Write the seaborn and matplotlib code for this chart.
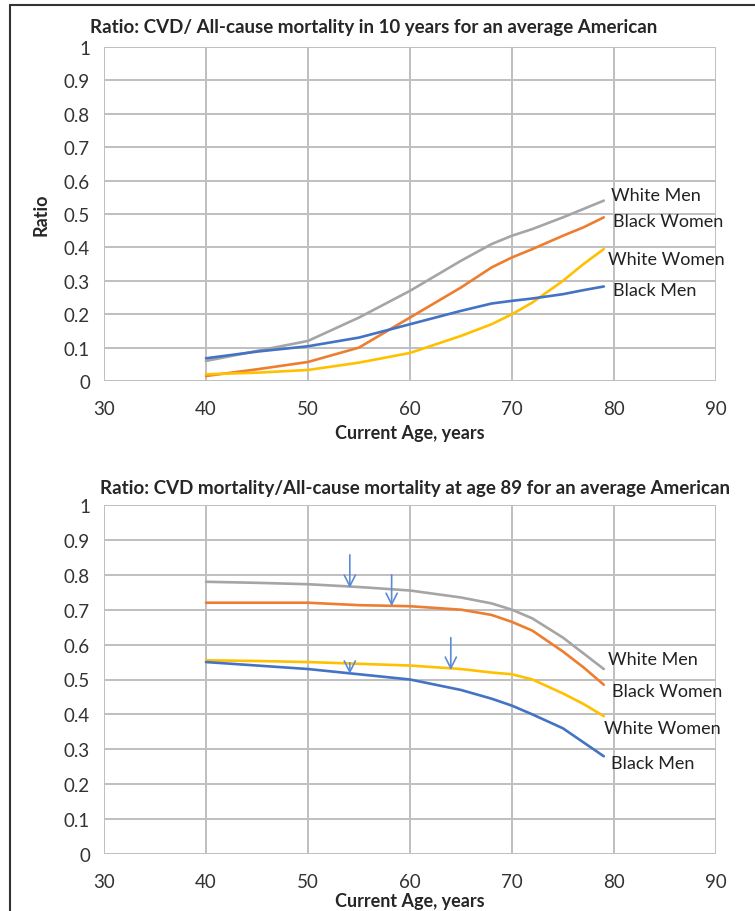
import pandas as pd
import matplotlib.pyplot as plt
import seaborn as sns
import numpy as np
from matplotlib.patches import Rectangle

###############################################################################
#data
age = [40, 45, 50, 55, 60, 65, 68, 70, 72, 75, 77, 79]
groups = ['White Men', 'Black Women', 'White Women', 'Black Men']

#top chart: ratio of CVD / all-cause mortality in 10 years
top_white_men = [0.06, 0.09, 0.12, 0.19, 0.27, 0.36, 0.41, 0.435, 0.455, 0.49, 0.515, 0.54]
top_black_women = [0.015, 0.035, 0.057, 0.10, 0.19, 0.28, 0.34, 0.37, 0.395, 0.435, 0.46, 0.49]
top_white_women = [0.02, 0.025, 0.033, 0.055, 0.084, 0.135, 0.17, 0.20, 0.235, 0.30, 0.35, 0.395]
top_black_men = [0.068, 0.088, 0.104, 0.13, 0.17, 0.21, 0.232, 0.24, 0.247, 0.26, 0.272, 0.283]

#bottom chart: ratio at age 89
bot_white_men = [0.78, 0.777, 0.773, 0.765, 0.755, 0.735, 0.718, 0.70, 0.675, 0.62, 0.575, 0.53]
bot_black_women = [0.72, 0.72, 0.72, 0.713, 0.71, 0.70, 0.685, 0.665, 0.64, 0.58, 0.535, 0.485]
bot_white_women = [0.555, 0.553, 0.55, 0.545, 0.54, 0.53, 0.52, 0.515, 0.50, 0.46, 0.43, 0.395]
bot_black_men = [0.55, 0.54, 0.53, 0.515, 0.50, 0.47, 0.445, 0.425, 0.40, 0.36, 0.32, 0.28]

#end labels (x, y) for each chart
top_labels = {'White Men': (79.7, 0.557), 'Black Women': (79.9, 0.48),
              'White Women': (79.4, 0.365), 'Black Men': (79.9, 0.272)}
bot_labels = {'White Men': (79.4, 0.559), 'Black Women': (79.8, 0.467),
              'White Women': (79.0, 0.36), 'Black Men': (79.7, 0.26)}

#arrows on the bottom chart: x, top y, tip y
arrow_x = [54.1, 58.2, 64.0, 54.1]
arrow_top = [0.857, 0.80, 0.62, 0.548]
arrow_tip = [0.762, 0.71, 0.527, 0.516]

###############################################################################
palette = {'White Men': '#a5a5a5', 'Black Women': '#ed7d31',
           'White Women': '#ffc000', 'Black Men': '#4472c4'}

def long_form(series):
    rows = []
    for g, vals in zip(groups, series):
        for a, v in zip(age, vals):
            rows.append({'age': a, 'ratio': v, 'group': g})
    return pd.DataFrame(rows)

df_top = long_form([top_white_men, top_black_women, top_white_women, top_black_men])
df_bot = long_form([bot_white_men, bot_black_women, bot_white_women, bot_black_men])

sns.set_style('white')
plt.rcParams['font.family'] = ['Lato', 'DejaVu Sans']

fig = plt.figure(figsize=(7.55, 9.12), dpi=100)
ax1 = fig.add_axes([104/755, 1-382/912, 612/755, 334/912])
ax2 = fig.add_axes([104/755, 1-855/912, 612/755, 349/912])

def style_axes(ax):
    ax.set_xlim(30, 90)
    ax.set_ylim(0, 1)
    ax.set_xticks(range(30, 91, 10))
    ax.set_yticks(np.arange(0, 1.01, 0.1))
    ax.set_yticklabels(['0', '0.1', '0.2', '0.3', '0.4', '0.5', '0.6', '0.7', '0.8', '0.9', '1'])
    ax.grid(True, color='#bfbfbf', lw=1.4)
    for s in ax.spines.values():
        s.set_visible(False)
    ax.tick_params(axis='both', which='both', length=7, width=1.4, color='#bfbfbf',
                   labelsize=13.5, labelcolor='#333333', pad=3)
    ax.tick_params(axis='x', pad=7)
    ax.set_axisbelow(True)

for ax, df, labels in [(ax1, df_top, top_labels), (ax2, df_bot, bot_labels)]:
    sns.lineplot(data=df, x='age', y='ratio', hue='group', palette=palette,
                 linewidth=1.9, ax=ax, legend=False)
    style_axes(ax)
    for g, (lx, ly) in labels.items():
        ax.text(lx, ly, g, fontsize=13, color='#222222', va='center', ha='left')

ax1.set_xlabel('Current Age, years', fontsize=13, fontweight='bold', labelpad=5)
ax2.set_xlabel('Current Age, years', fontsize=13, fontweight='bold', labelpad=1)
ax1.set_ylabel('Ratio', fontsize=13, fontweight='bold', labelpad=10)
ax2.set_ylabel('')

for x, yt, yb in zip(arrow_x, arrow_top, arrow_tip):
    ax2.annotate('', xy=(x, yb), xytext=(x, yt),
                 arrowprops=dict(arrowstyle='->', color='#5b8bd4', lw=1.2,
                                 mutation_scale=20, shrinkA=0, shrinkB=0))

fig.text(374/755, 1-27/912, 'Ratio: CVD/ All-cause mortality in 10 years for an average American',
         ha='center', va='center', fontsize=13.5, fontweight='bold')
fig.text(415/755, 1-489/912, 'Ratio: CVD mortality/All-cause mortality at age 89 for an average American',
         ha='center', va='center', fontsize=13.5, fontweight='bold')

#frame around the figure
fig.patches.append(Rectangle((10/755, -0.1), 1.2, 1-6/912+0.1, transform=fig.transFigure,
                             fill=False, edgecolor='#333333', lw=1.5))

plt.savefig('out.png', dpi=100)
